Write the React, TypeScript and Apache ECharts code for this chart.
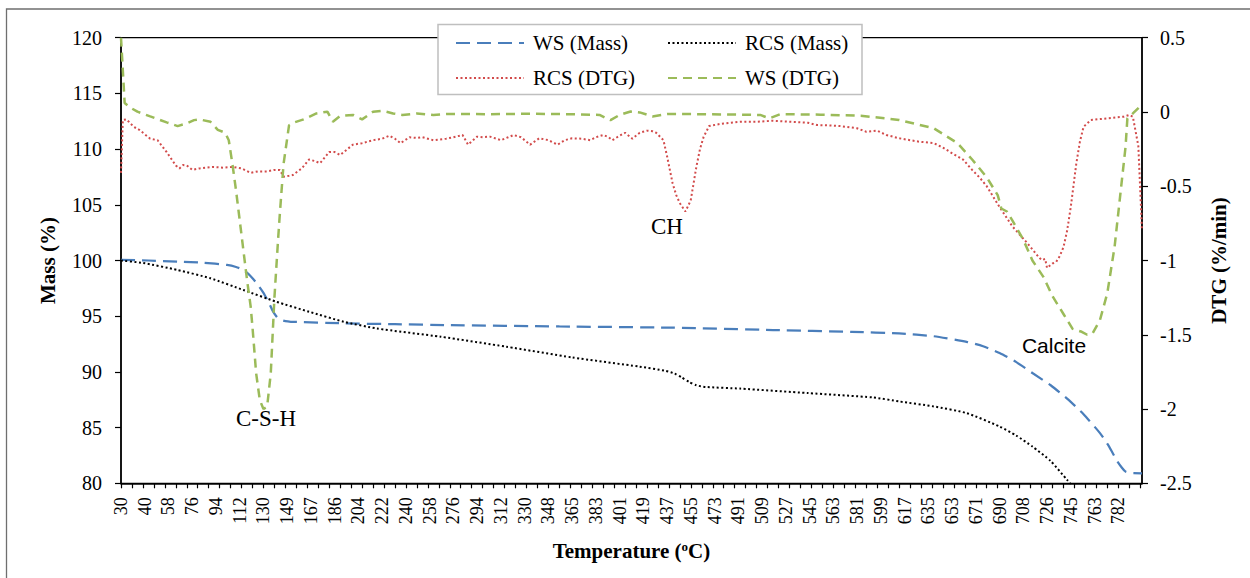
import React, { useEffect, useRef } from "react";
import * as echarts from "echarts";

// Temperature labels shown on the category axis (one every 13 samples)
const tickLabels = [
  "30", "40", "58", "76", "94", "112", "130", "149", "167", "186", "204", "222",
  "240", "258", "276", "294", "312", "330", "348", "365", "383", "401", "419",
  "437", "455", "473", "491", "509", "527", "545", "563", "581", "599", "617",
  "635", "653", "671", "690", "708", "726", "745", "763", "782",
];
const SAMPLES_PER_LABEL = 13;
const SAMPLE_COUNT = 560;

// [sample index, mass %]
const wsMass: [number, number][] = [
  [0, 100.05], [15, 100.0], [31, 99.9], [45, 99.8], [58, 99.6], [63, 99.42], [67, 99.15],
  [70, 98.75], [72, 98.4], [75, 97.8], [78, 97.1], [81, 96.2], [83, 95.5], [85, 95.0],
  [87, 94.7], [90, 94.55], [93, 94.5], [122, 94.36], [150, 94.28], [180, 94.2],
  [240, 94.08], [302, 93.97], [357, 93.76], [400, 93.6], [426, 93.45], [445, 93.2],
  [463, 92.7], [472, 92.3], [481, 91.7], [490, 90.9], [499, 89.9], [509, 88.8],
  [518, 87.6], [527, 86.2], [536, 84.5], [541, 83.3], [545, 82.1], [548, 81.4],
  [550, 81.05], [553, 80.93], [559, 80.9],
];

const rcsMass: [number, number][] = [
  [0, 100.0], [12, 99.78], [31, 99.15], [49, 98.4], [67, 97.35], [85, 96.3], [103, 95.4],
  [122, 94.5], [140, 93.9], [175, 93.16], [211, 92.26], [247, 91.3], [284, 90.47],
  [298, 90.1], [303, 89.85], [307, 89.5], [311, 89.1], [315, 88.8], [320, 88.65],
  [339, 88.5], [376, 88.1], [412, 87.7], [426, 87.35], [445, 86.9], [463, 86.3],
  [481, 85.1], [490, 84.3], [499, 83.3], [509, 82.0], [518, 80.3], [527, 78.6],
  [536, 77.0], [548, 75.0], [559, 73.0],
];

// [sample index, DTG %/min]
const rcsDtg: [number, number][] = [
  [0, -0.41], [1, -0.054], [3, -0.05], [7, -0.1], [10, -0.12], [16, -0.18], [20, -0.19],
  [25, -0.27], [30, -0.36], [32, -0.38], [34, -0.357], [36, -0.36], [39, -0.39],
  [43, -0.38], [50, -0.37], [56, -0.375], [61, -0.37], [66, -0.38], [71, -0.41],
  [75, -0.4], [80, -0.4], [84, -0.39], [87, -0.39], [89, -0.436], [92, -0.43],
  [94, -0.425], [99, -0.38], [103, -0.32], [106, -0.33], [109, -0.345], [114, -0.27],
  [117, -0.27], [120, -0.29], [127, -0.22], [132, -0.21], [138, -0.19], [143, -0.18],
  [147, -0.16], [150, -0.18], [153, -0.21], [158, -0.17], [162, -0.175], [165, -0.17],
  [168, -0.18], [171, -0.19], [178, -0.18], [182, -0.17], [187, -0.155], [190, -0.22],
  [195, -0.166], [198, -0.17], [202, -0.166], [208, -0.19], [212, -0.17], [215, -0.155],
  [219, -0.17], [224, -0.22], [229, -0.177], [234, -0.19], [239, -0.22], [243, -0.19],
  [247, -0.177], [252, -0.18], [257, -0.19], [260, -0.17], [264, -0.155], [267, -0.17],
  [269, -0.19], [273, -0.16], [276, -0.14], [280, -0.18], [284, -0.14], [288, -0.126],
  [291, -0.13], [293, -0.14], [297, -0.19], [299, -0.3], [302, -0.48], [304, -0.56],
  [306, -0.615], [309, -0.67], [311, -0.62], [312, -0.59], [315, -0.37], [317, -0.25],
  [319, -0.167], [322, -0.095], [326, -0.085], [330, -0.077], [339, -0.066],
  [348, -0.066], [357, -0.059], [366, -0.066], [376, -0.072], [381, -0.088],
  [387, -0.09], [394, -0.095], [403, -0.11], [408, -0.133], [414, -0.126],
  [419, -0.155], [426, -0.177], [432, -0.19], [437, -0.2], [445, -0.21], [450, -0.24],
  [454, -0.27], [461, -0.32], [466, -0.39], [470, -0.44], [474, -0.5], [481, -0.64],
  [488, -0.77], [496, -0.88], [502, -0.97], [504, -0.997], [506, -0.99], [507, -1.05],
  [510, -1.02], [512, -1.01], [514, -0.97], [516, -0.91], [518, -0.8], [520, -0.64],
  [523, -0.35], [525, -0.2], [527, -0.1], [531, -0.054], [540, -0.043], [549, -0.032],
  [552, -0.02], [554, -0.032], [557, -0.23], [559, -0.8],
];

const wsDtg: [number, number][] = [
  [0, 0.5], [2, 0.06], [5, 0.03], [9, 0.002], [16, -0.03], [25, -0.07], [31, -0.095],
  [36, -0.077], [40, -0.055], [43, -0.05], [49, -0.066], [53, -0.12], [57, -0.14],
  [59, -0.19], [61, -0.35], [63, -0.53], [65, -0.73], [67, -0.93], [69, -1.13],
  [71, -1.31], [72, -1.45], [74, -1.76], [76, -1.94], [78, -2.0], [80, -1.985],
  [82, -1.76], [84, -1.25], [86, -0.86], [87, -0.68], [89, -0.35], [92, -0.09],
  [95, -0.07], [100, -0.05], [107, -0.01], [113, 0.002], [116, -0.066], [120, -0.027],
  [127, -0.02], [132, -0.05], [138, 0.002], [143, 0.008], [149, -0.01], [154, -0.02],
  [162, -0.01], [171, -0.02], [178, -0.013], [200, -0.015], [225, -0.012], [245, -0.015],
  [262, -0.02], [268, -0.055], [273, -0.02], [279, 0.003], [284, -0.003], [291, -0.03],
  [299, -0.013], [317, -0.015], [339, -0.018], [350, -0.02], [355, -0.043], [361, -0.015],
  [383, -0.018], [405, -0.025], [426, -0.054], [445, -0.11], [458, -0.21], [466, -0.32],
  [474, -0.44], [480, -0.56], [482, -0.65], [485, -0.67], [488, -0.73], [494, -0.86],
  [499, -1.0], [505, -1.11], [510, -1.24], [516, -1.36], [521, -1.46], [526, -1.48],
  [529, -1.5], [532, -1.49], [536, -1.4], [540, -1.22], [544, -0.907], [547, -0.57],
  [550, -0.234], [551, -0.043], [554, -0.01], [559, 0.05],
];

const SERIF = "Liberation Serif";
const SANS = "Liberation Sans";

export default function App() {
  const ref = useRef<HTMLDivElement>(null);

  useEffect(() => {
    if (!ref.current) return;
    const chart = echarts.init(ref.current, undefined, { renderer: "svg" });

    const categories = Array.from({ length: SAMPLE_COUNT }, (_, i) =>
      i % SAMPLES_PER_LABEL === 0 ? tickLabels[i / SAMPLES_PER_LABEL] ?? "" : ""
    );

    const makeLegend = (left: number, data: string[]) => ({
      orient: "vertical",
      left,
      top: 32,
      itemWidth: 68,
      itemHeight: 10,
      itemGap: 13,
      padding: 0,
      z: 20,
      selectedMode: false,
      itemStyle: { opacity: 0 },
      textStyle: {
        fontFamily: SERIF,
        fontSize: 21,
        color: "#000",
        lineHeight: 22,
        padding: [0, 0, 0, 4],
      },
      data,
    });

    chart.setOption({
      animation: false,
      textStyle: { fontFamily: SERIF },
      grid: {
        left: 121,
        right: 108,
        top: 37.7,
        bottom: 94.7,
        show: true,
        borderColor: "#000",
        borderWidth: 1.3,
      },
      legend: [
        makeLegend(455, ["WS (Mass)", "RCS (DTG)"]),
        makeLegend(667, ["RCS (Mass)", "WS (DTG)"]),
      ],
      xAxis: {
        type: "category",
        data: categories,
        boundaryGap: false,
        name: "Temperature ({sup|o}C)",
        nameLocation: "middle",
        nameGap: 57,
        nameTextStyle: {
          fontFamily: SERIF,
          fontSize: 21,
          fontWeight: "bold",
          color: "#000",
          rich: { sup: { fontFamily: SERIF, fontSize: 13, fontWeight: "bold", verticalAlign: "top" } },
        },
        axisLine: { onZero: false, lineStyle: { color: "#000", width: 1.5 } },
        axisTick: { interval: 5, length: 5, lineStyle: { color: "#000", width: 1.2 } },
        axisLabel: {
          interval: SAMPLES_PER_LABEL - 1,
          rotate: 90,
          margin: 14,
          fontFamily: SERIF,
          fontSize: 18,
          color: "#000",
        },
        splitLine: { show: false },
      },
      yAxis: [
        {
          type: "value",
          min: 80,
          max: 120,
          interval: 5,
          position: "left",
          name: "Mass (%)",
          nameLocation: "middle",
          nameRotate: 90,
          nameGap: 63,
          nameTextStyle: { fontFamily: SERIF, fontSize: 21, fontWeight: "bold", color: "#000" },
          axisLine: { show: true, onZero: false, lineStyle: { color: "#000", width: 1.5 } },
          axisTick: { show: true, length: 6, lineStyle: { color: "#000", width: 1.2 } },
          axisLabel: { margin: 19, fontFamily: SERIF, fontSize: 20, color: "#000" },
          splitLine: { show: false },
        },
        {
          type: "value",
          min: -2.5,
          max: 0.5,
          interval: 0.5,
          position: "right",
          name: "DTG (%/min)",
          nameLocation: "middle",
          nameRotate: 90,
          nameGap: 66,
          nameTextStyle: { fontFamily: SERIF, fontSize: 21, fontWeight: "bold", color: "#000" },
          axisLine: { show: true, onZero: false, lineStyle: { color: "#000", width: 1.5 } },
          axisTick: { show: true, length: 6, lineStyle: { color: "#000", width: 1.2 } },
          axisLabel: { margin: 18, fontFamily: SERIF, fontSize: 20, color: "#000" },
          splitLine: { show: false },
        },
      ],
      series: [
        {
          name: "WS (Mass)",
          type: "line",
          yAxisIndex: 0,
          data: wsMass,
          symbol: "none",
          smooth: 0.2,
          lineStyle: { color: "#4a7ebb", width: 2.25, type: [14, 7] },
          itemStyle: { color: "#4a7ebb" },
        },
        {
          name: "RCS (Mass)",
          type: "line",
          yAxisIndex: 0,
          data: rcsMass,
          symbol: "none",
          smooth: 0.2,
          lineStyle: { color: "#000", width: 2, type: [2, 2.5] },
          itemStyle: { color: "#000" },
        },
        {
          name: "RCS (DTG)",
          type: "line",
          yAxisIndex: 1,
          data: rcsDtg,
          symbol: "none",
          lineStyle: { color: "#d24b4b", width: 2, type: [2, 2.5] },
          itemStyle: { color: "#d24b4b" },
        },
        {
          name: "WS (DTG)",
          type: "line",
          yAxisIndex: 1,
          data: wsDtg,
          symbol: "none",
          lineStyle: { color: "#9bbb59", width: 2.5, type: [9, 6] },
          itemStyle: { color: "#9bbb59" },
        },
      ],
      graphic: [
        {
          type: "rect",
          silent: true,
          z: 1,
          shape: { x: 6.5, y: 9, width: 1300, height: 620 },
          style: { fill: "transparent", stroke: "#6f6f6f", lineWidth: 1.3 },
        },
        {
          type: "rect",
          silent: true,
          z: 10,
          shape: { x: 438, y: 24.5, width: 424, height: 70 },
          style: { fill: "#fff", stroke: "#bfbfbf", lineWidth: 1.5 },
        },
        {
          type: "text",
          silent: true,
          z: 10,
          x: 266,
          y: 418,
          style: { text: "C-S-H", fontFamily: SERIF, fontSize: 23, fill: "#000", align: "center", verticalAlign: "middle" },
        },
        {
          type: "text",
          silent: true,
          z: 10,
          x: 667,
          y: 226,
          style: { text: "CH", fontFamily: SERIF, fontSize: 23, fill: "#000", align: "center", verticalAlign: "middle" },
        },
        {
          type: "text",
          silent: true,
          z: 10,
          x: 1054,
          y: 345,
          style: { text: "Calcite", fontFamily: SANS, fontSize: 21, fill: "#000", align: "center", verticalAlign: "middle" },
        },
      ],
    });

    return () => chart.dispose();
  }, []);

  return (
    <div
      ref={ref}
      style={{ position: "fixed", left: 0, top: 0, width: 1250, height: 578, background: "#fff" }}
    />
  );
}
